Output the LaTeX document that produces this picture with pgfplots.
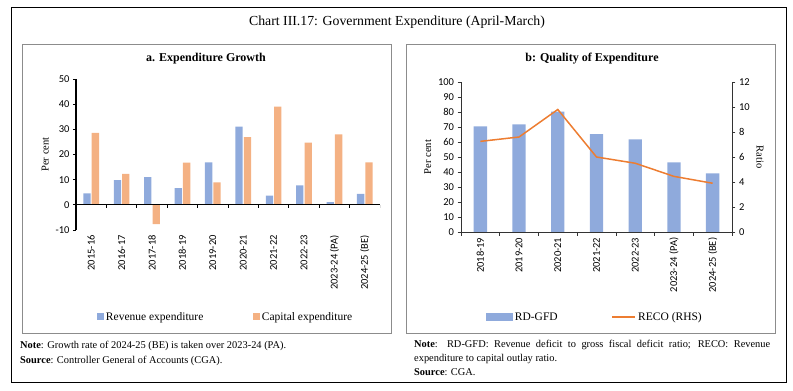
\documentclass[border=0pt]{standalone}
\usepackage{fontspec}
\setmainfont{Liberation Serif}
\newfontfamily\carlito{Carlito}
\usepackage{pgfplots}
\pgfplotsset{compat=1.18}
\definecolor{barblue}{HTML}{8FAADC}
\definecolor{barorange}{HTML}{F4B183}
\definecolor{lineorange}{HTML}{ED7D31}
\definecolor{framegray}{HTML}{8C8C8C}
\pgfplotsset{every axis/.append style={/pgf/number format/assume math mode=true}}
\begin{document}
\begin{tikzpicture}
\useasboundingbox (0pt,0pt) rectangle (793pt,391pt);
% frames
\draw[black, line width=0.9pt] (11.7pt,383.7pt) rectangle (786pt,9pt);
\draw[framegray, line width=0.9pt] (22pt,347pt) rectangle (391pt,58pt);
\draw[framegray, line width=0.9pt] (406pt,347pt) rectangle (775pt,58pt);
% titles
\node[font=\fontsize{13.8}{15}\selectfont] at (397pt,369pt) {Chart III.17: Government Expenditure (April-March)};
\node[font=\fontsize{12}{13}\selectfont\bfseries] at (206pt,332pt) {a. Expenditure Growth};
\node[font=\fontsize{12}{13}\selectfont\bfseries] at (592pt,332pt) {b: Quality of Expenditure};
% notes
\node[anchor=west, font=\fontsize{10.4}{11}\selectfont, inner sep=0pt] at (20pt,45pt) {\textbf{Note}: Growth rate of 2024-25 (BE) is taken over 2023-24 (PA).};
\node[anchor=west, font=\fontsize{10.4}{11}\selectfont, inner sep=0pt] at (20pt,30pt) {\textbf{Source}: Controller General of Accounts (CGA).};
\node[anchor=north west, font=\fontsize{10.4}{14}\selectfont, inner sep=0pt] at (414pt,51pt) {\parbox{356pt}{\textbf{Note}: RD-GFD: Revenue deficit to gross fiscal deficit ratio; RECO: Revenue\linebreak expenditure to capital outlay ratio.\\\textbf{Source}: CGA.}};

% ---------- Panel a ----------
\begin{axis}[
  at={(76pt,161pt)}, anchor=south west, scale only axis,
  width=304pt, height=151pt,
  xmin=-0.5, xmax=9.5, ymin=-10, ymax=50,
  ytick={-10,0,10,20,30,40,50},
  axis lines*=left,
  x axis line style={draw=none},
  y axis line style={black, line width=1.4pt},
  xtick={0,...,9},
  xticklabels={2015-16,2016-17,2017-18,2018-19,2019-20,2020-21,2021-22,2022-23,2023-24 (PA),2024-25 (BE)},
  major x tick style={draw=none},
  xticklabel style={rotate=90, anchor=east, font=\carlito\fontsize{10.5}{12}\selectfont, inner sep=2pt},
  yticklabel style={font=\carlito\fontsize{10.5}{12}\selectfont},
  ytick style={black, line width=0.8pt}, tick align=outside, major tick length=3pt,
  ylabel={Per cent}, ylabel style={font=\fontsize{10.5}{12}\selectfont},
  ybar, bar width=7.3pt,
  legend style={at={(0.493,-0.576)}, anchor=center, draw=none, fill=none,
    legend columns=2, font=\fontsize{11.5}{12}\selectfont,
    /tikz/every even column/.append style={column sep=48pt}},
  legend cell align=left,
]
\addplot[fill=barblue, draw=none, bar shift=-4.2pt,
  legend image code/.code={\fill[barblue] (0pt,-3pt) rectangle (6.5pt,3.5pt);}]
  coordinates {(0,4.6) (1,9.8) (2,11.0) (3,6.6) (4,16.9) (5,31.1) (6,3.7) (7,7.7) (8,1.1) (9,4.4)};
\addlegendentry{Revenue expenditure}
\addplot[fill=barorange, draw=none, bar shift=4.2pt,
  legend image code/.code={\fill[barorange] (0pt,-3pt) rectangle (6.5pt,3.5pt);}]
  coordinates {(0,28.6) (1,12.3) (2,-7.7) (3,16.8) (4,8.9) (5,26.9) (6,39.0) (7,24.7) (8,28.0) (9,16.9)};
\addlegendentry{Capital expenditure}
\draw[black, line width=1.3pt] (axis cs:-0.5,0) -- (axis cs:9.5,0);
\pgfplotsinvokeforeach{0.5,1.5,2.5,3.5,4.5,5.5,6.5,7.5,8.5,9.5}{
  \draw[black, line width=0.7pt] (axis cs:#1,0) -- ++(0pt,-3pt);
}
\end{axis}

% ---------- Panel b (left axis) ----------
\begin{axis}[
  at={(461pt,159pt)}, anchor=south west, scale only axis,
  width=271pt, height=150pt,
  xmin=-0.5, xmax=6.5, ymin=0, ymax=100,
  ytick={0,10,...,100},
  axis lines*=left,
  axis line style={black!80, line width=0.8pt},
  xtick={-0.5,0.5,...,6.5},
  x tick label as interval,
  xticklabels={2018-19,2019-20,2020-21,2021-22,2022-23,2023-24 (PA),2024-25 (BE)},
  xticklabel style={rotate=90, anchor=east, font=\carlito\fontsize{10.5}{12}\selectfont, inner sep=2pt},
  yticklabel style={font=\carlito\fontsize{10.5}{12}\selectfont},
  tick style={black!80, line width=0.7pt}, tick align=outside, major tick length=3.5pt,
  ylabel={Per cent}, ylabel style={font=\fontsize{10.5}{12}\selectfont},
  legend style={at={(0.494,-0.567)}, anchor=center, draw=none, fill=none,
    legend columns=2, font=\fontsize{11.5}{12}\selectfont,
    /tikz/every even column/.append style={column sep=52pt}},
  legend cell align=left,
]
\addplot[ybar, bar width=13.3pt, fill=barblue, draw=none,
  legend image code/.code={\fill[barblue] (0pt,-4pt) rectangle (27pt,4pt);}]
  coordinates {(0,70.4) (1,71.8) (2,80.2) (3,65.3) (4,61.8) (5,46.4) (6,39.1)};
\addlegendentry{RD-GFD}
\addlegendimage{legend image code/.code={\draw[lineorange, line width=1.5pt] (0pt,0pt) -- (23pt,0pt);}}
\addlegendentry{RECO (RHS)}
\end{axis}

% ---------- Panel b (right axis) ----------
\begin{axis}[
  at={(461pt,159pt)}, anchor=south west, scale only axis,
  width=271pt, height=150pt,
  xmin=-0.5, xmax=6.5, ymin=0, ymax=12,
  ytick={0,2,...,12},
  axis y line*=right, axis x line=none,
  axis line style={black!80, line width=0.8pt},
  yticklabel style={font=\carlito\fontsize{10.5}{12}\selectfont},
  tick style={black!80, line width=0.7pt}, tick align=outside, major tick length=3.5pt,
  ylabel={Ratio}, ylabel style={font=\fontsize{10.5}{12}\selectfont, rotate=180},
]
\addplot[lineorange, line width=1.5pt, mark=none]
  coordinates {(0,7.25) (1,7.6) (2,9.8) (3,6.0) (4,5.5) (5,4.45) (6,3.9)};
\end{axis}
\end{tikzpicture}
\end{document}
